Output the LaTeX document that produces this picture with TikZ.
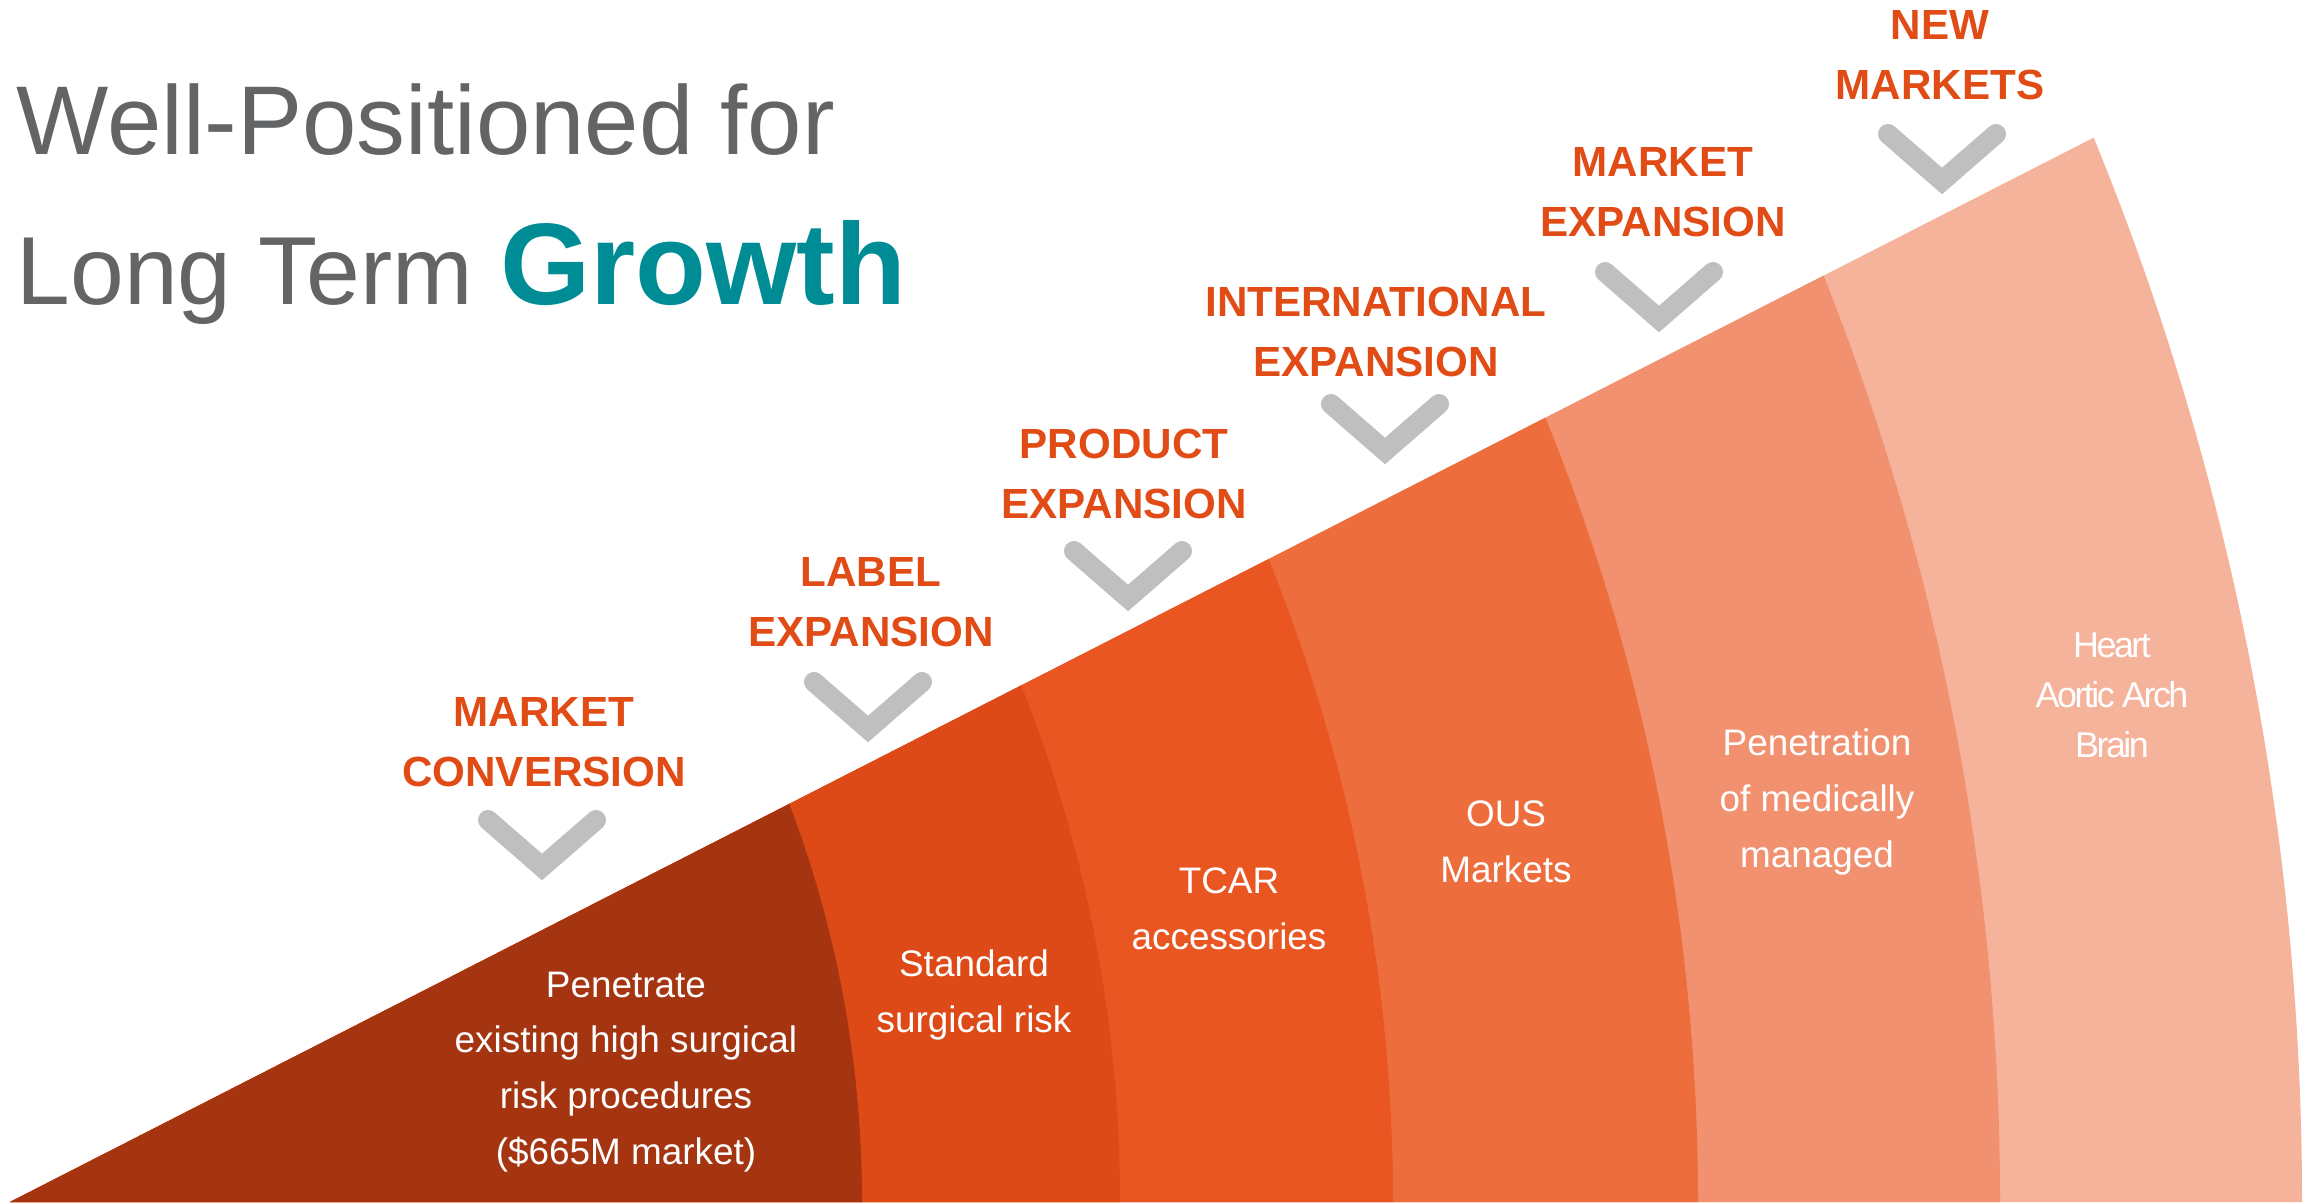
\documentclass[tikz,border=0pt]{standalone}
\usepackage{fontspec}
\setmainfont{Liberation Sans}
\newfontfamily\tightsans[LetterSpace=-7]{Liberation Sans}
\usepackage{tikz}
\definecolor{bandA}{RGB}{165,52,16}
\definecolor{bandB}{RGB}{221,74,23}
\definecolor{bandC}{RGB}{233,86,34}
\definecolor{bandD}{RGB}{238,109,61}
\definecolor{bandE}{RGB}{241,145,112}
\definecolor{bandF}{RGB}{246,179,156}
\definecolor{stepred}{RGB}{224,75,22}
\definecolor{chevgray}{RGB}{191,191,191}
\definecolor{titlegray}{RGB}{99,100,102}
\definecolor{growthteal}{RGB}{0,140,149}
\newcommand{\band}[3]{ \fill[#1] ( #2 , 0 ) circle [radius=#3];}
\newcommand{\chevron}[2]{ \draw[chev] ( #1 - 54 , #2 + 47 ) -- ( #1 , #2 ) -- ( #1 + 54 , #2 + 47 );}
\tikzset{
  chev/.style={draw=chevgray, line width=5.7pt, line cap=round, line join=miter},
  steplabel/.style={text=stepred, font=\bfseries\fontsize{12}{17.1}\selectfont, align=center, inner sep=0pt},
  bandtext/.style={text=white, font=\fontsize{10.5}{15.9}\selectfont, align=center, inner sep=0pt},
  titletext/.style={anchor=base west, inner sep=0pt, text=titlegray, font=\fontsize{27.5}{33}\selectfont}
}

\begin{document}
\begin{tikzpicture}[x=0.1mm,y=0.1mm]
        \useasboundingbox (0,0) rectangle (2311,1202);
        % title
        \node[titletext, font=\fontsize{27.8}{33}\selectfont] (title1) at (16,1047) {Well-Positioned for};
        \node[titletext] (title2) at (16,897) {Long Term {\color{growthteal}\bfseries\fontsize{33}{40}\selectfont Growth}};
        % bands, outermost first
        \begin{scope}
            \clip (10,0) -- (2093,1064) -- (2400,1221) -- (2400,0) -- cycle;
            \band{bandF}{-511}{2813}
            \band{bandE}{-511}{2511}
            \band{bandD}{-387}{2085}
            \band{bandC}{-323}{1716}
            \band{bandB}{-274}{1394}
            \band{bandA}{-259.5}{1121.5}
        \end{scope}
        % band texts
        \node[bandtext] (conv) at (626,130) {Penetrate\\existing high surgical\\risk procedures\\(\$665M market)};
        \node[bandtext] (label) at (974,207) {Standard\\surgical risk};
        \node[bandtext] (product) at (1229,293) {TCAR\\accessories};
        \node[bandtext] (intl) at (1506,360) {OUS\\Markets};
        \node[bandtext] (market) at (1817,400) {Penetration\\of medically\\managed};
        \node[bandtext, font=\tightsans\fontsize{10.2}{14.2}\selectfont] (new) at (2112,507) {Heart\\Aortic Arch\\Brain};
        % steps
        \node[steplabel] (convstep) at (544,460) {MARKET\\CONVERSION};
        \node[steplabel] (labelstep) at (871,600) {LABEL\\EXPANSION};
        \node[steplabel] (productstep) at (1124,728) {PRODUCT\\EXPANSION};
        \node[steplabel] (intlstep) at (1376,870) {INTERNATIONAL\\EXPANSION};
        \node[steplabel] (marketstep) at (1663,1010) {MARKET\\EXPANSION};
        \node[steplabel] (newstep) at (1940,1147) {NEW\\MARKETS};
        % chevrons
        \chevron{542}{335}
        \chevron{868}{473}
        \chevron{1128}{604}
        \chevron{1385}{751}
        \chevron{1659}{883}
        \chevron{1942}{1021}
\end{tikzpicture}
\end{document}
